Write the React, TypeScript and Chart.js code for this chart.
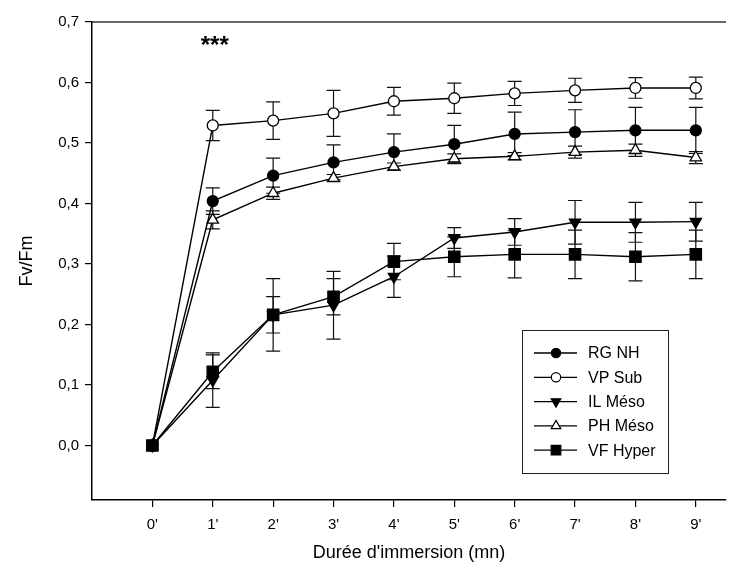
import React, { useEffect, useRef } from 'react';
import { Chart, registerables } from 'chart.js';
import { drawPoint } from 'chart.js/helpers';

Chart.register(...registerables);

// ---- data ----
const times = [0, 1, 2, 3, 4, 5, 6, 7, 8, 9];
const timeTickLabels = times.map((t) => `${t}'`);
const yTickValues = [0, 0.1, 0.2, 0.3, 0.4, 0.5, 0.6, 0.7];

const seriesNames = ['RG NH', 'VP Sub', 'IL Méso', 'PH Méso', 'VF Hyper'];

const rgNH = [0, 0.404, 0.446, 0.468, 0.485, 0.498, 0.515, 0.518, 0.521, 0.521];
const rgNHErr = [0, 0.022, 0.029, 0.029, 0.03, 0.031, 0.036, 0.037, 0.038, 0.038];

const vpSub = [0, 0.529, 0.537, 0.549, 0.569, 0.574, 0.582, 0.587, 0.591, 0.591];
const vpSubErr = [0, 0.025, 0.031, 0.038, 0.023, 0.025, 0.02, 0.02, 0.017, 0.018];

const ilMeso = [0, 0.108, 0.216, 0.232, 0.279, 0.343, 0.353, 0.369, 0.369, 0.37];
const ilMesoErr = [0, 0.045, 0.03, 0.056, 0.034, 0.017, 0.022, 0.036, 0.033, 0.032];

const phMeso = [0, 0.373, 0.417, 0.442, 0.461, 0.474, 0.478, 0.485, 0.488, 0.476];
const phMesoErr = [0, 0.015, 0.01, 0.006, 0.006, 0.008, 0.006, 0.01, 0.01, 0.01];

const vfHyper = [0, 0.122, 0.216, 0.246, 0.304, 0.312, 0.316, 0.316, 0.312, 0.316];
const vfHyperErr = [0, 0.028, 0.06, 0.03, 0.03, 0.033, 0.039, 0.04, 0.04, 0.04];

const significanceLabel = '***';
const significanceTime = 1;
const significanceValue = 0.66;

const xTitle = "Durée d'immersion (mn)";
const yTitle = 'Fv/Fm';

const FONT = "'Liberation Sans', Arial, Helvetica, sans-serif";

type Style = { pointStyle: string; rotation: number; fill: string; radius: number };
const styles: Style[] = [
  { pointStyle: 'circle', rotation: 0, fill: '#000', radius: 5.5 },
  { pointStyle: 'circle', rotation: 0, fill: '#fff', radius: 5.5 },
  { pointStyle: 'triangle', rotation: 180, fill: '#000', radius: 6.5 },
  { pointStyle: 'triangle', rotation: 0, fill: '#fff', radius: 6.5 },
  { pointStyle: 'rect', rotation: 0, fill: '#000', radius: 8 },
];

const values = [rgNH, vpSub, ilMeso, phMeso, vfHyper];
const errors = [rgNHErr, vpSubErr, ilMesoErr, phMesoErr, vfHyperErr];

const errorBarPlugin = {
  id: 'errorBars',
  beforeDatasetsDraw(chart: any) {
    const ctx = chart.ctx;
    const xs = chart.scales.x;
    const ys = chart.scales.y;
    ctx.save();
    ctx.strokeStyle = '#111';
    ctx.lineWidth = 1.2;
    values.forEach((vals, i) => {
      vals.forEach((v, j) => {
        const e = errors[i][j];
        if (!e) return;
        const x = xs.getPixelForValue(times[j]);
        const yt = ys.getPixelForValue(v + e);
        const yb = ys.getPixelForValue(v - e);
        ctx.beginPath();
        ctx.moveTo(x, yt);
        ctx.lineTo(x, yb);
        ctx.moveTo(x - 7, yt);
        ctx.lineTo(x + 7, yt);
        ctx.moveTo(x - 7, yb);
        ctx.lineTo(x + 7, yb);
        ctx.stroke();
      });
    });
    ctx.restore();
  },
};

const framePlugin = {
  id: 'frameAndLegend',
  afterDraw(chart: any) {
    const ctx = chart.ctx;
    const { left, right, top } = chart.chartArea;
    ctx.save();
    // top frame line
    ctx.strokeStyle = '#333';
    ctx.lineWidth = 1.5;
    ctx.beginPath();
    ctx.moveTo(left, top);
    ctx.lineTo(right, top);
    ctx.stroke();

    // significance stars
    const xs = chart.scales.x;
    const ys = chart.scales.y;
    ctx.fillStyle = '#000';
    ctx.font = `bold 24px ${FONT}`;
    ctx.textAlign = 'center';
    ctx.textBaseline = 'middle';
    ctx.fillText(significanceLabel, xs.getPixelForValue(significanceTime) + 2, ys.getPixelForValue(significanceValue));

    // legend box
    const lx = 522;
    const ly = 330;
    const lw = 146;
    const lh = 143;
    ctx.strokeStyle = '#222';
    ctx.lineWidth = 1;
    ctx.strokeRect(lx + 0.5, ly + 0.5, lw, lh);
    ctx.font = `16px ${FONT}`;
    ctx.textAlign = 'left';
    ctx.textBaseline = 'middle';
    seriesNames.forEach((name, i) => {
      const y = ly + 23 + i * 24.3;
      ctx.strokeStyle = '#000';
      ctx.lineWidth = 1.3;
      ctx.beginPath();
      ctx.moveTo(lx + 12, y);
      ctx.lineTo(lx + 55, y);
      ctx.stroke();
      const st = styles[i];
      ctx.fillStyle = st.fill;
      ctx.strokeStyle = '#000';
      ctx.lineWidth = 1.2;
      drawPoint(ctx, { pointStyle: st.pointStyle, rotation: st.rotation, radius: st.radius * 0.85, borderWidth: 1.2 } as any, lx + 34, y);
      ctx.fillStyle = '#000';
      ctx.fillText(name, lx + 66, y + 1);
    });
    ctx.restore();
  },
};

export default function App() {
  const ref = useRef<HTMLCanvasElement | null>(null);

  useEffect(() => {
    document.body.style.margin = '0';
    if (!ref.current) return;
    const datasets = seriesNames.map((name, i) => ({
      label: name,
      data: times.map((t, j) => ({ x: t, y: values[i][j] })),
      borderColor: '#000',
      borderWidth: 1.4,
      backgroundColor: styles[i].fill,
      pointBackgroundColor: styles[i].fill,
      pointBorderColor: '#000',
      pointBorderWidth: 1.3,
      pointStyle: styles[i].pointStyle,
      pointRotation: styles[i].rotation,
      pointRadius: styles[i].radius,
      tension: 0,
      fill: false,
    }));
    const chart = new Chart(ref.current, {
      type: 'line',
      data: { datasets },
      options: {
        animation: false,
        responsive: false,
        devicePixelRatio: 1,
        layout: { padding: { left: 0, top: 22, right: 20, bottom: 0 } },
        plugins: { legend: { display: false }, tooltip: { enabled: false } },
        scales: {
          x: {
            type: 'linear',
            min: -1,
            max: 9.5,
            afterBuildTicks: (scale: any) => {
              scale.ticks = times.map((t) => ({ value: t }));
            },
            afterFit: (scale: any) => {
              scale.height = 77;
            },
            ticks: {
              color: '#000',
              font: { family: FONT, size: 15 },
              padding: 9,
              maxRotation: 0,
              callback: (v: any) => timeTickLabels[times.indexOf(Number(v))] ?? '',
            },
            grid: { drawOnChartArea: false, tickLength: 7, color: '#000', lineWidth: 1.2 },
            border: { display: true, color: '#000', width: 1.5 },
            title: {
              display: true,
              text: xTitle,
              color: '#000',
              font: { family: FONT, size: 18 },
              padding: { top: 0, bottom: 13 },
            },
          },
          y: {
            type: 'linear',
            min: -0.09,
            max: 0.7,
            afterBuildTicks: (scale: any) => {
              scale.ticks = yTickValues.map((v) => ({ value: v }));
            },
            afterFit: (scale: any) => {
              scale.width = 92;
            },
            ticks: {
              color: '#000',
              font: { family: FONT, size: 15 },
              padding: 6,
              callback: (v: any) => Number(v).toFixed(1).replace('.', ','),
            },
            grid: { drawOnChartArea: false, tickLength: 7, color: '#000', lineWidth: 1.2 },
            border: { display: true, color: '#000', width: 1.5 },
            title: {
              display: true,
              text: yTitle,
              color: '#000',
              font: { family: FONT, size: 18 },
              padding: { top: 16, bottom: 0 },
            },
          },
        },
      },
      plugins: [errorBarPlugin, framePlugin],
    } as any);
    return () => chart.destroy();
  }, []);

  return (
    <div style={{ width: 746, height: 577 }}>
      <canvas ref={ref} width={746} height={577} style={{ display: 'block' }} />
    </div>
  );
}
